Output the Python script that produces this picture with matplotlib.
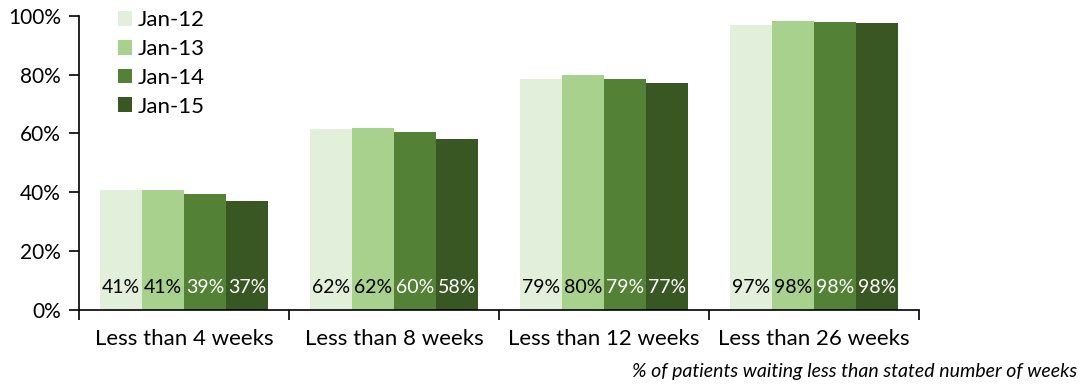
import numpy as np
import matplotlib
matplotlib.use("Agg")
import matplotlib.pyplot as plt

plt.rcParams['font.family'] = ['Lato', 'DejaVu Sans']

categories = ["Less than 4 weeks", "Less than 8 weeks",
              "Less than 12 weeks", "Less than 26 weeks"]
series_names = ["Jan-12", "Jan-13", "Jan-14", "Jan-15"]
# share of patients (%) per category, one list per snapshot
jan12 = [40.6, 61.5, 78.6, 96.9]
jan13 = [40.7, 61.7, 80.0, 98.2]
jan14 = [39.2, 60.4, 78.6, 98.0]
jan15 = [37.0, 58.0, 77.1, 97.6]
series_values = [jan12, jan13, jan14, jan15]

colors = ["#E2EFDA", "#A9D18E", "#538135", "#385723"]
label_colors = ["black", "black", "white", "white"]
y_ticks = [0, 20, 40, 60, 80, 100]

fig = plt.figure(figsize=(10.83, 3.85), dpi=100)
ax = fig.add_axes([79 / 1083, 1 - 309.5 / 385, 840 / 1083, 293.5 / 385])

x = np.arange(len(categories))
barWidth = 0.2
for i, (name, vals) in enumerate(zip(series_names, series_values)):
    offset = (i - 1.5) * barWidth
    ax.bar(x + offset, vals, width=barWidth, color=colors[i], label=name,
           linewidth=0)
    for xi, v in zip(x, vals):
        ax.text(xi + offset, 7.6, f"{v:.0f}%", ha="center", va="center",
                fontsize=14, color=label_colors[i])

ax.set_xlim(-0.5, len(categories) - 0.5)
ax.set_ylim(0, 100)
ax.set_yticks(y_ticks)
ax.set_yticklabels([f"{t}%" for t in y_ticks], fontsize=15)

# group boundaries carry the tick marks, names sit in the middle
ax.set_xticks(np.arange(len(categories) + 1) - 0.5)
ax.set_xticklabels([])
ax.set_xticks(x, minor=True)
ax.set_xticklabels(categories, minor=True, fontsize=16)
ax.tick_params(axis="x", which="minor", length=0, pad=14)
ax.tick_params(axis="x", which="major", direction="out", length=7, width=1.2)
ax.tick_params(axis="y", direction="out", length=7, width=1.2, pad=6)

for side in ["top", "right"]:
    ax.spines[side].set_visible(False)
for side in ["left", "bottom"]:
    ax.spines[side].set_linewidth(1.2)

ax.legend(loc="upper left", bbox_to_anchor=(118 / 1083, 1 - 10 / 385),
          bbox_transform=fig.transFigure, frameon=False, fontsize=16,
          handlelength=0.65, handleheight=0.65, handletextpad=0.25,
          labelspacing=0.4, borderpad=0, borderaxespad=0)

fig.text(1077 / 1083, 1 - 372 / 385,
         "% of patients waiting less than stated number of weeks",
         ha="right", va="center", fontsize=14, style="italic")

fig.savefig("out.png", dpi=100)
